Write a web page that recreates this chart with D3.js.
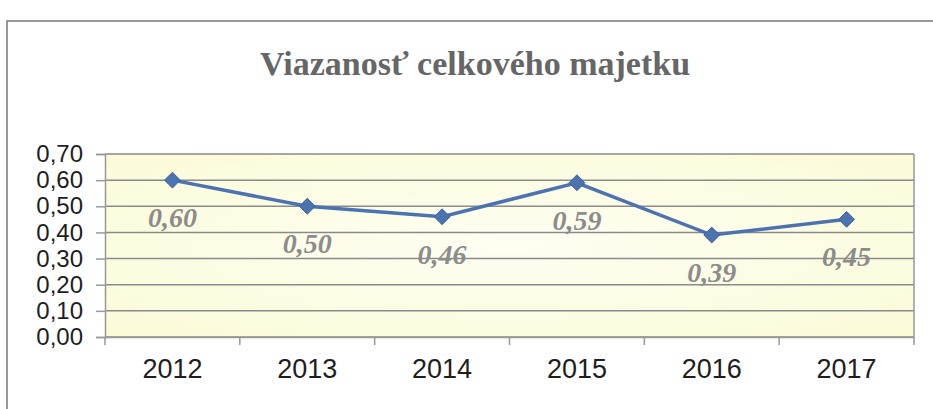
<!DOCTYPE html>
<html>
<head>
<meta charset="utf-8">
<script src="https://d3js.org/d3.v7.min.js"></script>
<style>
  body { margin: 0; background: #fff; }
</style>
</head>
<body>
<div id="chart-area"></div>
<script>
var years = ['2012', '2013', '2014', '2015', '2016', '2017'];
var values = [0.60, 0.50, 0.46, 0.59, 0.39, 0.45];
var yTicks = [0, 0.1, 0.2, 0.3, 0.4, 0.5, 0.6, 0.7];
var title = 'Viazanosť celkového majetku';

var W = 933, H = 409;
var margin = { left: 105, right: 19, top: 154, bottom: 72 };
var width = W - margin.left - margin.right;
var height = H - margin.top - margin.bottom;

var fmt = function(d) { return d3.format('.2f')(d).replace('.', ','); };

var svg = d3.select('#chart-area')
  .append('svg')
  .attr('width', W)
  .attr('height', H);

// gradient for plot area
var grad = svg.append('defs').append('radialGradient')
  .attr('id', 'plotbg')
  .attr('cx', '50%').attr('cy', '50%').attr('r', '70%');
grad.append('stop').attr('offset', '0%').attr('stop-color', '#fefef2');
grad.append('stop').attr('offset', '100%').attr('stop-color', '#fbfbd8');

// outer chart border
svg.append('rect')
  .attr('x', 7)
  .attr('y', 21)
  .attr('width', W + 10)
  .attr('height', H)
  .attr('fill', '#fff')
  .attr('stroke', '#777')
  .attr('stroke-width', 1.5);

// title
svg.append('text')
  .attr('x', 475)
  .attr('y', 75)
  .attr('text-anchor', 'middle')
  .attr('font-family', '"Liberation Serif", "Times New Roman", serif')
  .attr('font-weight', 'bold')
  .attr('font-size', '34px')
  .attr('fill', '#666')
  .text(title);

var g = svg.append('g')
  .attr('transform', 'translate(' + margin.left + ', ' + margin.top + ')');

var x = d3.scaleBand()
  .domain(years)
  .range([0, width]);

var y = d3.scaleLinear()
  .domain([0, 0.7])
  .range([height, 0]);

g.append('rect')
  .attr('width', width)
  .attr('height', height)
  .attr('fill', 'url(#plotbg)');

// gridlines
g.append('g')
  .attr('class', 'grid')
  .selectAll('line')
  .data(yTicks)
  .enter()
  .append('line')
    .attr('x1', 0)
    .attr('x2', width)
    .attr('y1', function(d) { return y(d); })
    .attr('y2', function(d) { return y(d); })
    .attr('stroke', '#8a8a8a')
    .attr('stroke-width', 1.5);

// right border of plot
g.append('line')
  .attr('x1', width).attr('x2', width)
  .attr('y1', 0).attr('y2', height)
  .attr('stroke', '#999')
  .attr('stroke-width', 1.5);

// Y Axis
var yAxisCall = d3.axisLeft(y)
  .tickValues(yTicks)
  .tickSize(9)
  .tickPadding(13)
  .tickFormat(fmt);
var yAxis = g.append('g')
  .attr('class', 'y-axis')
  .call(yAxisCall);
yAxis.select('.domain').attr('stroke', '#999').attr('stroke-width', 1.5);
yAxis.selectAll('.tick line').attr('stroke', '#999').attr('stroke-width', 1.5);
yAxis.selectAll('text')
  .attr('font-family', '"Liberation Sans", Arial, sans-serif')
  .attr('font-size', '24px')
  .attr('fill', '#1e1e1e');

// X Axis
var xAxisCall = d3.axisBottom(x)
  .tickSize(0)
  .tickPadding(22);
var xAxis = g.append('g')
  .attr('class', 'x-axis')
  .attr('transform', 'translate(0, ' + height + ')')
  .call(xAxisCall);
xAxis.select('.domain').attr('stroke', '#999').attr('stroke-width', 1.5);
xAxis.selectAll('text')
  .attr('font-family', '"Liberation Sans", Arial, sans-serif')
  .attr('font-size', '27px')
  .attr('fill', '#1e1e1e');

// category boundary ticks
xAxis.selectAll('.boundary')
  .data(years.concat(['end']))
  .enter()
  .append('line')
    .attr('class', 'boundary')
    .attr('x1', function(d, i) { return i * x.step(); })
    .attr('x2', function(d, i) { return i * x.step(); })
    .attr('y1', 0)
    .attr('y2', 8)
    .attr('stroke', '#999')
    .attr('stroke-width', 1.5);

var cx = function(d, i) { return x(years[i]) + x.bandwidth() / 2; };

// line
var line = d3.line()
  .x(cx)
  .y(function(d) { return y(d); });

g.append('path')
  .datum(values)
  .attr('d', line)
  .attr('fill', 'none')
  .attr('stroke', '#4a73b0')
  .attr('stroke-width', 3.5);

// markers
g.selectAll('.marker')
  .data(values)
  .enter()
  .append('path')
    .attr('class', 'marker')
    .attr('d', d3.symbol().type(d3.symbolDiamond2).size(160))
    .attr('transform', function(d, i) {
      return 'translate(' + cx(d, i) + ', ' + y(d) + ')';
    })
    .attr('fill', '#4a73b0')
    .attr('stroke', '#3d639c')
    .attr('stroke-width', 1);

// data labels
g.selectAll('.label')
  .data(values)
  .enter()
  .append('text')
    .attr('class', 'label')
    .attr('x', cx)
    .attr('y', function(d) { return y(d) + 47; })
    .attr('text-anchor', 'middle')
    .attr('font-family', '"Liberation Serif", "Times New Roman", serif')
    .attr('font-style', 'italic')
    .attr('font-weight', 'bold')
    .attr('font-size', '28px')
    .attr('fill', '#8c8c8c')
    .text(fmt);
</script>
</body>
</html>
